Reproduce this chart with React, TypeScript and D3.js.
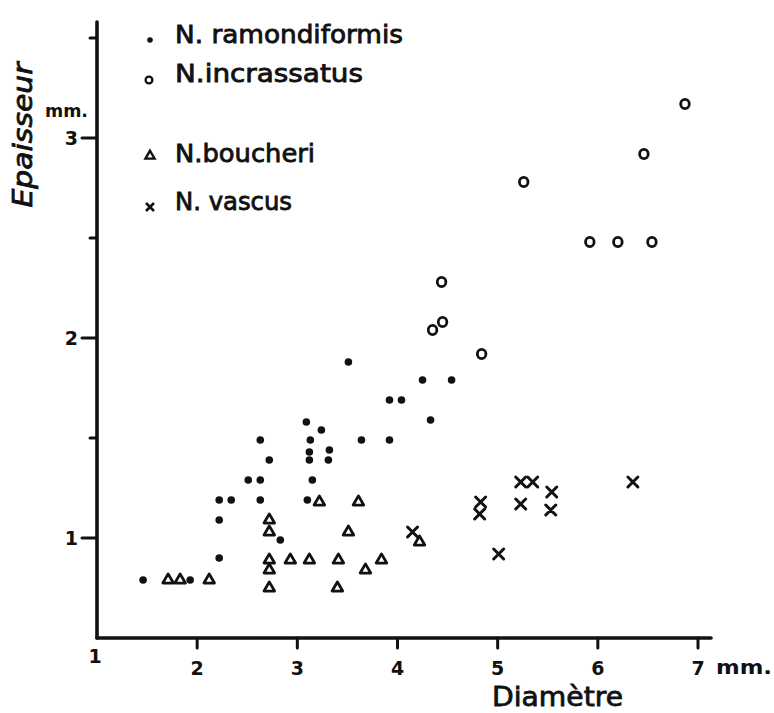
import * as d3 from "d3";
import React from "react";

// values: [diamètre mm, épaisseur mm]
const ramondiformis: [number, number][] = [
  [1.46, 0.79], [1.93, 0.79], [2.22, 0.9], [2.22, 1.09], [2.22, 1.19], [2.34, 1.19],
  [2.63, 1.19], [2.51, 1.29], [2.63, 1.29], [2.63, 1.49], [2.72, 1.39], [2.83, 0.99],
  [3.09, 1.58], [3.24, 1.54], [3.13, 1.49], [3.12, 1.43], [3.32, 1.44], [3.12, 1.39],
  [3.31, 1.39], [3.15, 1.29], [3.1, 1.19], [3.51, 1.88], [3.64, 1.49], [3.92, 1.49],
  [3.92, 1.69], [4.04, 1.69], [4.33, 1.59], [4.25, 1.79], [4.54, 1.79],
];
const incrassatus: [number, number][] = [
  [4.35, 2.04], [4.45, 2.08], [4.44, 2.28], [4.84, 1.92], [5.26, 2.78],
  [5.92, 2.48], [6.2, 2.48], [6.54, 2.48], [6.46, 2.92], [6.87, 3.17],
];
const boucheri: [number, number][] = [
  [1.71, 0.79], [1.83, 0.79], [2.12, 0.79], [2.72, 1.09], [2.72, 1.03], [2.72, 0.89],
  [2.72, 0.84], [2.72, 0.75], [2.93, 0.89], [3.12, 0.89], [3.22, 1.18], [3.41, 0.89],
  [3.4, 0.75], [3.51, 1.03], [3.61, 1.18], [3.68, 0.84], [3.84, 0.89], [4.22, 0.98],
];
const vascus: [number, number][] = [
  [4.15, 1.03], [5.01, 0.92], [4.83, 1.18], [4.82, 1.12], [5.23, 1.17],
  [5.23, 1.28], [5.35, 1.28], [5.54, 1.23], [5.53, 1.14], [6.35, 1.28],
];

const xTicks = [2, 3, 4, 5, 6, 7];
const yMajor = [1, 2, 3];
const yMinor = [1.5, 2.5, 3.5];
const legendNames = ["N. ramondiformis", "N.incrassatus", "N.boucheri", "N. vascus"];

const W = 774, H = 713;
const ink = "#111";
const font = "'DejaVu Sans', sans-serif";

export default function App() {
  const x = d3.scaleLinear().domain([1, 7]).range([97, 698]);
  const y = d3.scaleLinear().domain([0.5, 3.5]).range([638, 38]);
  const tri = d3.symbol(d3.symbolTriangle, 48)()!;
  const triSmall = d3.symbol(d3.symbolTriangle, 36)()!;
  const cross = (s: number) => `M${-s},${-s}L${s},${s}M${-s},${s}L${s},${-s}`;

  const x0 = x(1), y0 = y(0.5);
  // thicken glyphs a little, like pen lettering
  const pen = { stroke: ink, strokeWidth: 0.8, paintOrder: "stroke" as const };

  return (
    <svg width={W} height={H} style={{ position: "absolute", left: 0, top: 0, background: "#fff" }}>
      <rect width={W} height={H} fill="#fff" />
      {/* axes */}
      <g stroke={ink} strokeWidth={3.6} strokeLinecap="round">
        <line x1={x0} y1={y0} x2={x0} y2={y(3.58)} />
        <line x1={x0} y1={y0} x2={x(7.13)} y2={y0} />
        {yMajor.map(v => <line key={"ym" + v} x1={x0 - 15} x2={x0} y1={y(v)} y2={y(v)} strokeWidth={3} />)}
        {yMinor.map(v => <line key={"yn" + v} x1={x0 - 7} x2={x0} y1={y(v)} y2={y(v)} strokeWidth={3} />)}
        {xTicks.map(v => <line key={"xt" + v} x1={x(v)} x2={x(v)} y1={y0} y2={y0 + 10} strokeWidth={3} />)}
      </g>
      <g fill={ink} fontFamily={font} fontWeight="bold" fontSize={19}>
        {yMajor.map(v => (
          <text key={"yl" + v} x={x0 - 19} y={y(v)} textAnchor="end" dominantBaseline="central">{v}</text>
        ))}
        <text x={x(1) - 2} y={663} textAnchor="middle">1</text>
        {xTicks.map(v => (
          <text key={"xl" + v} x={x(v)} y={675} textAnchor="middle">{v}</text>
        ))}
        <text x={716} y={674} fontSize={19} textLength={56} lengthAdjust="spacingAndGlyphs">mm.</text>
        <text x={45} y={117} fontSize={18} textLength={43} lengthAdjust="spacingAndGlyphs">mm.</text>
      </g>
      <text x={492} y={706} fill={ink} fontFamily={font} fontSize={26} textLength={131}
        lengthAdjust="spacingAndGlyphs" {...pen}>Diamètre</text>
      <text transform="translate(32,135) rotate(-90)" textAnchor="middle" fill={ink} fontFamily={font}
        fontStyle="italic" fontSize={26} textLength={145} lengthAdjust="spacingAndGlyphs" {...pen}>Epaisseur</text>

      {/* legend */}
      <g fill={ink} fontFamily={font} fontSize={24}>
        <circle cx={150} cy={40} r={2.8} />
        <text x={175} y={43} textLength={228} lengthAdjust="spacingAndGlyphs" {...pen}>{legendNames[0]}</text>
        <circle cx={149} cy={80} r={3.4} fill="#fff" stroke={ink} strokeWidth={2.4} />
        <text x={175} y={82} textLength={188} lengthAdjust="spacingAndGlyphs" {...pen}>{legendNames[1]}</text>
        <path d={triSmall} transform="translate(150,156)" fill="#fff" stroke={ink} strokeWidth={2.4} />
        <text x={175} y={162} textLength={140} lengthAdjust="spacingAndGlyphs" {...pen}>{legendNames[2]}</text>
        <path d={cross(4)} transform="translate(150,207)" stroke={ink} strokeWidth={2.6} />
        <text x={175} y={210} textLength={117} lengthAdjust="spacingAndGlyphs" {...pen}>{legendNames[3]}</text>
      </g>

      {/* points */}
      <g>
        {ramondiformis.map((d, i) => (
          <circle key={"r" + i} cx={x(d[0])} cy={y(d[1])} r={3.8} fill={ink} />
        ))}
        {incrassatus.map((d, i) => (
          <ellipse key={"c" + i} cx={x(d[0])} cy={y(d[1])} rx={4.3} ry={4.6} fill="none" stroke={ink} strokeWidth={2.8} />
        ))}
        {boucheri.map((d, i) => (
          <path key={"b" + i} d={tri} transform={`translate(${x(d[0])},${y(d[1])})`} fill="#fff" stroke={ink}
            strokeWidth={2.8} strokeLinejoin="round" />
        ))}
        {vascus.map((d, i) => (
          <path key={"v" + i} d={cross(5)} transform={`translate(${x(d[0])},${y(d[1])})`} stroke={ink}
            strokeWidth={3} strokeLinecap="round" />
        ))}
      </g>
    </svg>
  );
}
